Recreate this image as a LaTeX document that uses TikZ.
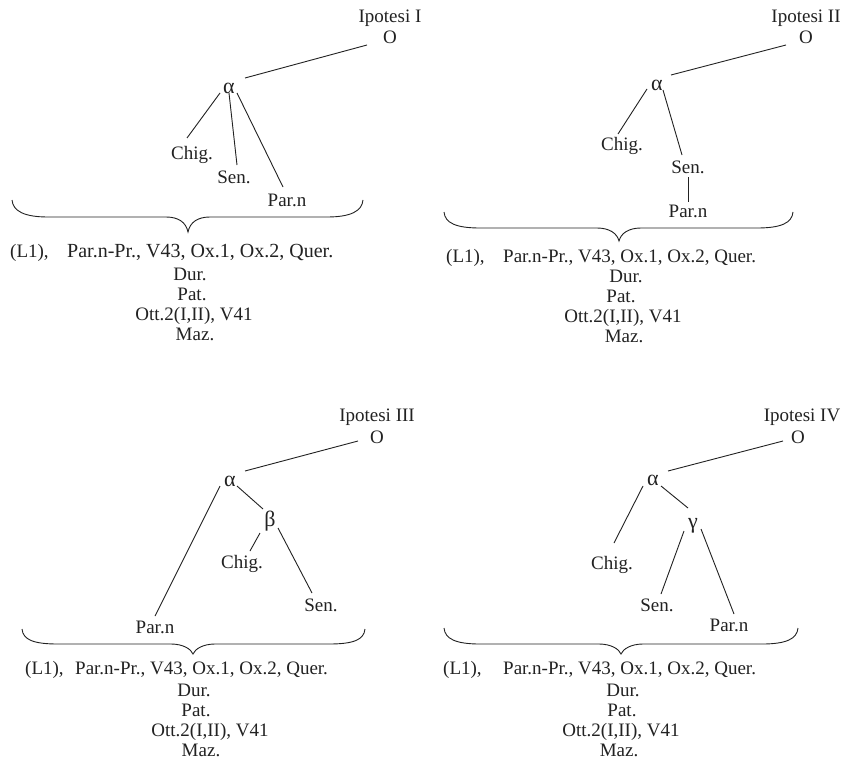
\documentclass[tikz,border=0pt]{standalone}
\usepackage{fontspec}
\setmainfont{Liberation Serif}
\definecolor{ink}{HTML}{222222}
\newcommand\lbf{\fontsize{19}{21}\selectfont}
\newcommand\grf{\fontsize{22}{24}\selectfont}
% brace: x1, x2, yends, ymid, xtip, ytip
\newcommand\mybrace[6]{%
  \draw[brc] (#1,#3) .. controls (#1+1,#3+11) and (#1+12,#4) .. (#1+36,#4)
    -- (#5-22,#4) .. controls (#5-10,#4) and (#5-2,#4+5) .. (#5,#6)
    .. controls (#5+2,#4+5) and (#5+10,#4) .. (#5+22,#4)
    -- (#2-36,#4) .. controls (#2-12,#4) and (#2-1,#3+11) .. (#2,#3);}
\tikzset{
  lbl/.style={font=\lbf, inner sep=0pt, anchor=base, text=ink},
  lbll/.style={font=\lbf, inner sep=0pt, anchor=base west, text=ink},
  grk/.style={font=\grf, inner sep=0pt, anchor=center, text=ink},
  edge/.style={draw=ink, line width=0.9pt},
  brc/.style={draw=ink, line width=0.9pt},
}
\begin{document}
\begin{tikzpicture}[x=1pt,y=-1pt]
\useasboundingbox[fill=white] (0,0) rectangle (842,762);

% ---------- Ipotesi I ----------
\node[lbl] (h1) at (390,23) {Ipotesi I};
\node[lbl] (O1) at (390,44) {O};
\node[grk] (a1) at (229,88) {α};
\node[lbl] (chig1) at (192,160) {Chig.};
\node[lbl] (sen1) at (234,183) {Sen.};
\node[lbl] (par1) at (287,206) {Par.n};
\draw[edge] ([shift={(-23,1)}]O1.base) -- ([shift={(16,-10)}]a1.center);
\draw[edge] ([shift={(-9,5)}]a1.center) -- ([shift={(-5,-22)}]chig1.base);
\draw[edge] ([shift={(0,5)}]a1.center) -- ([shift={(3,-18)}]sen1.base);
\draw[edge] ([shift={(8,5)}]a1.center) -- ([shift={(-4,-19)}]par1.base);
\mybrace{12}{363}{200}{217}{188}{232}
\node[lbll] (l1a) at (10,257) {(L1),};
\node[lbll, font=\fontsize{20}{22}\selectfont] (l1b) at (67,257) {Par.n-Pr., V43, Ox.1, Ox.2, Quer.};
\node[lbl] (dur1) at (190,280) {Dur.};
\node[lbl] (pat1) at (192,300) {Pat.};
\node[lbl] (ott1) at (194,320) {Ott.2(I,II), V41};
\node[lbl] (maz1) at (195,340) {Maz.};

% ---------- Ipotesi II ----------
\node[lbl] (h2) at (806,23) {Ipotesi II};
\node[lbl] (O2) at (806,44) {O};
\node[grk] (a2) at (657,85) {α};
\node[lbl] (chig2) at (622,151) {Chig.};
\node[lbl] (sen2) at (688,173) {Sen.};
\node[lbl] (par2) at (688,217) {Par.n};
\draw[edge] ([shift={(-20,1)}]O2.base) -- ([shift={(14,-10)}]a2.center);
\draw[edge] ([shift={(-10,4)}]a2.center) -- ([shift={(-4,-17)}]chig2.base);
\draw[edge] ([shift={(6,5)}]a2.center) -- ([shift={(-6,-18)}]sen2.base);
\draw[edge] ([shift={(0,4)}]sen2.base) -- ([shift={(0,-15)}]par2.base);
\mybrace{444}{793}{212}{228}{619}{241}
\node[lbll] (l2a) at (446,262) {(L1),};
\node[lbll] (l2b) at (503,262) {Par.n-Pr., V43, Ox.1, Ox.2, Quer.};
\node[lbl] (dur2) at (626,282) {Dur.};
\node[lbl] (pat2) at (621,302) {Pat.};
\node[lbl] (ott2) at (623,322) {Ott.2(I,II), V41};
\node[lbl] (maz2) at (624,342) {Maz.};

% ---------- Ipotesi III ----------
\node[lbl] (h3) at (377,421) {Ipotesi III};
\node[lbl] (O3) at (377,443) {O};
\node[grk] (a3) at (230,481) {α};
\node[grk] (b3) at (270,521) {β};
\node[lbl] (chig3) at (242,568) {Chig.};
\node[lbl] (sen3) at (321,611) {Sen.};
\node[lbl] (par3) at (155,633) {Par.n};
\draw[edge] ([shift={(-19,-2)}]O3.base) -- ([shift={(15,-10)}]a3.center);
\draw[edge] ([shift={(-10,5)}]a3.center) -- ([shift={(0,-17)}]par3.base);
\draw[edge] ([shift={(7,5)}]a3.center) -- ([shift={(-7,-12)}]b3.center);
\draw[edge] ([shift={(-10,12)}]b3.center) -- ([shift={(8,-17)}]chig3.base);
\draw[edge] ([shift={(8,7)}]b3.center) -- ([shift={(-9,-18)}]sen3.base);
\mybrace{22}{365}{629}{644}{193}{654}
\node[lbll] (l3a) at (25,674) {(L1),};
\node[lbll] (l3b) at (75,674) {Par.n-Pr., V43, Ox.1, Ox.2, Quer.};
\node[lbl] (dur3) at (194,696) {Dur.};
\node[lbl] (pat3) at (196,716) {Pat.};
\node[lbl] (ott3) at (210,736) {Ott.2(I,II), V41};
\node[lbl] (maz3) at (201,756) {Maz.};

% ---------- Ipotesi IV ----------
\node[lbl] (h4) at (802,421) {Ipotesi IV};
\node[lbl] (O4) at (798,443) {O};
\node[grk] (a4) at (653,480) {α};
\node[grk] (g4) at (693,526) {γ};
\node[lbl] (chig4) at (612,569) {Chig.};
\node[lbl] (sen4) at (657,611) {Sen.};
\node[lbl] (par4) at (729,631) {Par.n};
\draw[edge] ([shift={(-15,-2)}]O4.base) -- ([shift={(15,-9)}]a4.center);
\draw[edge] ([shift={(-10,6)}]a4.center) -- ([shift={(2,-26)}]chig4.base);
\draw[edge] ([shift={(8,6)}]a4.center) -- ([shift={(-5,-18)}]g4.center);
\draw[edge] ([shift={(-9,5)}]g4.center) -- ([shift={(4,-17)}]sen4.base);
\draw[edge] ([shift={(8,3)}]g4.center) -- ([shift={(5,-17)}]par4.base);
\mybrace{444}{798}{628}{644}{621}{654}
\node[lbll] (l4a) at (443,674) {(L1),};
\node[lbll] (l4b) at (503,674) {Par.n-Pr., V43, Ox.1, Ox.2, Quer.};
\node[lbl] (dur4) at (623,696) {Dur.};
\node[lbl] (pat4) at (622,716) {Pat.};
\node[lbl] (ott4) at (621,736) {Ott.2(I,II), V41};
\node[lbl] (maz4) at (619,756) {Maz.};
\end{tikzpicture}
\end{document}
